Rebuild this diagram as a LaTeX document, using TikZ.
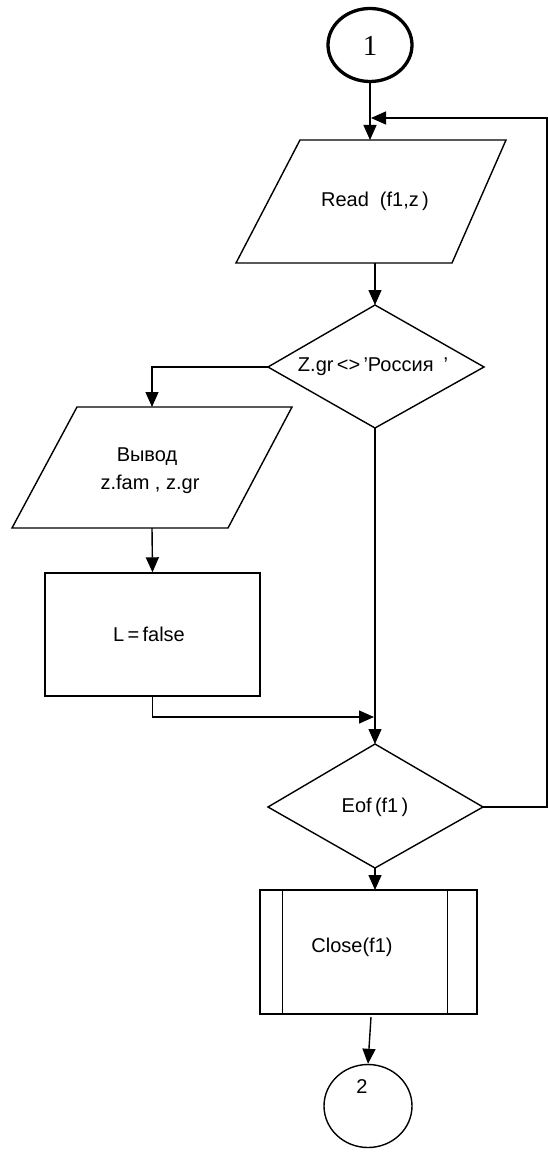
\documentclass[tikz,border=0pt]{standalone}
\usepackage{fontspec}
\setmainfont{Liberation Sans}
\newfontfamily\serifnum{Liberation Serif}
\usetikzlibrary{arrows.meta,shapes.geometric}
\begin{document}
\begin{tikzpicture}[x=1pt,y=-1pt,line width=1.4pt,
  >={Triangle[length=15pt,width=13pt]},
  txt/.style={font=\fontsize{20}{24}\selectfont,inner sep=0pt},
  conn/.style={ellipse,draw,inner sep=0pt}]
\useasboundingbox (0,0) rectangle (548,1153);

% connector 1
\node[conn,line width=3.3pt,minimum width=84pt,minimum height=73pt] (c1) at (370,45) {};
\node[font=\serifnum\fontsize{29}{30}\selectfont,inner sep=0pt] (t1) at (370,46) {1};

% Read parallelogram
\coordinate (r1) at (300,140);
\coordinate (r2) at (506,140);
\coordinate (r3) at (452,263);
\coordinate (r4) at (236,263);
\draw (r1)--(r2)--(r3)--(r4)--cycle;
\node[txt] (tread) at (375,201) {Read\ \ (f1,z\,)};
\coordinate (rtop) at (370,140);
\coordinate (rbot) at (375,263);
\coordinate (fbin) at (371,118);
\coordinate (fbr) at (547,118);

% diamond 1
\coordinate (d1t) at (375,305);
\coordinate (d1r) at (484,367);
\coordinate (d1b) at (375,428);
\coordinate (d1l) at (268,367);
\draw (d1t)--(d1r)--(d1b)--(d1l)--cycle;
\node[txt] (td1) at (373,367) {Z.gr\,<>\,’Россия\hspace{10pt}’};

% output parallelogram
\coordinate (v1) at (77,407);
\coordinate (v2) at (292,407);
\coordinate (v3) at (228,528);
\coordinate (v4) at (12,528);
\draw (v1)--(v2)--(v3)--(v4)--cycle;
\coordinate (vtop) at (152,407);
\coordinate (vbot) at (152,528);
\node[txt] (tv1) at (147,457) {Вывод};
\node[txt] (tv2) at (150,484) {z.fam , z.gr};

% L = false
\node[draw,minimum width=215pt,minimum height=123pt,inner sep=0pt] (L) at (152.5,634.5) {};
\node[txt] (tL) at (149,634) {L\,=\,false};
\coordinate (join) at (374,717);

% diamond 2
\coordinate (d2t) at (375,744);
\coordinate (d2r) at (483,807);
\coordinate (d2b) at (375,868);
\coordinate (d2l) at (268,807);
\draw (d2t)--(d2r)--(d2b)--(d2l)--cycle;
\node[txt] (td2) at (375,807) {Eof\,(f1\,)};

% Close box
\node[draw,minimum width=217pt,minimum height=124pt,inner sep=0pt] (cl) at (368.5,952) {};
\draw ([xshift=23pt]cl.north west) -- ([xshift=23pt]cl.south west);
\draw ([xshift=-30pt]cl.north east) -- ([xshift=-30pt]cl.south east);
\node[txt] (tcl) at (352,947) {Close(f1)};
\coordinate (cltop) at (375,890);
\coordinate (clbot) at (371,1017);

% connector 2
\node[conn,minimum width=88pt,minimum height=83pt] (c2) at (368,1106) {};
\node[txt] (t2) at (362,1087) {2};

% connectors
\draw[->] (c1.south) -- (rtop);
\draw[->] (rbot) -- (d1t);
\draw[->] (d1l) -| (vtop);
\draw[->] (vbot) -- (L.north);
\draw[->] (L.south) |- (join);
\draw[->] (d1b) -- (d2t);
\draw[->] (d2r) -| (fbr) -- (fbin);
\draw[->] (d2b) -- (cltop);
\draw[->] (clbot) -- (c2.north);
\end{tikzpicture}
\end{document}
